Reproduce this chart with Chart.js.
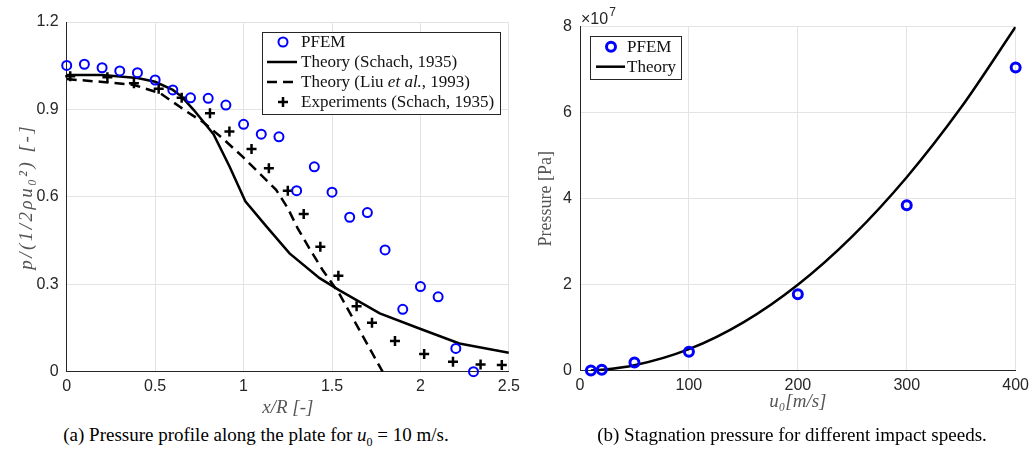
<!DOCTYPE html>
<html>
<head>
<meta charset="utf-8">
<script src="https://cdn.jsdelivr.net/npm/chart.js@4.4.1/dist/chart.umd.min.js"></script>
<style>
  html, body { margin: 0; padding: 0; background: #fff; }
  body { width: 1034px; height: 456px; position: relative; overflow: hidden; }
  .panel { position: absolute; top: 0; height: 420px; }
  #left { left: 0; width: 525px; }
  #right { left: 520px; width: 514px; }
  .caption {
    position: absolute; top: 424px; transform: translateX(-50%);
    font-family: "Liberation Serif", serif; font-size: 19px; color: #000; white-space: nowrap;
  }
  .caption sub { font-size: 12px; }
</style>
</head>
<body>
<div class="panel" id="left"><canvas id="chartA" width="525" height="420"></canvas></div>
<div class="panel" id="right"><canvas id="chartB" width="514" height="420"></canvas></div>
<div class="caption" style="left:256px">(a) Pressure profile along the plate for <i>u</i><sub>0</sub> = 10 m/s.</div>
<div class="caption" style="left:792px">(b) Stagnation pressure for different impact speeds.</div>

<script>
// (a) pressure profile along the plate
const pfemX = [0, 0.1, 0.2, 0.3, 0.4, 0.5, 0.6, 0.7, 0.8, 0.9, 1.0, 1.1, 1.2, 1.3, 1.4, 1.5, 1.6, 1.7, 1.8, 1.9, 2.0, 2.1, 2.2, 2.3];
const pfemY = [1.051, 1.055, 1.043, 1.032, 1.026, 1.001, 0.967, 0.940, 0.938, 0.915, 0.849, 0.815, 0.806, 0.621, 0.703, 0.616, 0.530, 0.546, 0.418, 0.214, 0.292, 0.257, 0.080, 0.0];

const schachX = [0, 0.2, 0.4, 0.5, 0.6, 0.65, 0.72, 0.83, 0.92, 1.01, 1.13, 1.26, 1.43, 1.54, 1.77, 1.99, 2.22, 2.5];
const schachY = [1.018, 1.018, 1.008, 0.995, 0.967, 0.944, 0.897, 0.815, 0.705, 0.585, 0.498, 0.406, 0.321, 0.280, 0.200, 0.149, 0.097, 0.065];

const liuX = [0, 0.19, 0.38, 0.53, 0.68, 0.77, 0.883, 0.996, 1.09, 1.184, 1.25, 1.306, 1.372, 1.447, 1.54, 1.786];
const liuY = [1.004, 0.995, 0.984, 0.955, 0.892, 0.857, 0.800, 0.737, 0.681, 0.624, 0.561, 0.492, 0.423, 0.349, 0.269, 0.0];

const expX = [0.02, 0.23, 0.38, 0.52, 0.65, 0.81, 0.92, 1.045, 1.143, 1.25, 1.34, 1.434, 1.536, 1.639, 1.726, 1.856, 2.021, 2.184, 2.34, 2.46];
const expY = [1.014, 1.010, 0.990, 0.971, 0.940, 0.887, 0.824, 0.764, 0.698, 0.621, 0.541, 0.429, 0.329, 0.225, 0.168, 0.105, 0.061, 0.034, 0.025, 0.023];

const xTicksA = [0, 0.5, 1, 1.5, 2, 2.5];
const yTicksA = [0, 0.3, 0.6, 0.9, 1.2];

// (b) stagnation pressure vs impact speed
const speeds = [10, 20, 50, 100, 200, 300, 400];
const pfemPressure = [5e4, 2e5, 1.9e6, 4.4e6, 1.78e7, 3.85e7, 7.05e7];
const theorySpeeds = [10, 20, 50, 100, 150, 200, 250, 300, 350, 400];
const theoryPressure = [5e4, 2e5, 1.25e6, 5e6, 1.125e7, 2e7, 3.125e7, 4.5e7, 6.125e7, 8e7];

const xTicksB = [0, 100, 200, 300, 400];
const yTicksB = [0, 2e7, 4e7, 6e7, 8e7];

const pts = (xs, ys) => xs.map((x, i) => ({ x, y: ys[i] }));

const TICK = "#262626";
const GRID = "#e3e3e3";
const LABEL = "#555";
const tickFont = { family: "'Liberation Sans', Arial, sans-serif", size: 16 };
const titleFont = { family: "'Liberation Serif', serif", size: 19, style: "italic" };

// boxed legend (mixed italic text) + exponent label + spaced y title
const boxLegend = {
  id: "boxLegend",
  afterDraw(chart, args, opts) {
    const ctx = chart.ctx;
    ctx.save();
    if (opts.rows) {
      ctx.fillStyle = "#fff";
      ctx.fillRect(opts.x, opts.y, opts.w, opts.h);
      ctx.strokeStyle = TICK;
      ctx.lineWidth = 1;
      ctx.strokeRect(opts.x + 0.5, opts.y + 0.5, opts.w, opts.h);

      opts.rows.forEach((row, i) => {
        const cy = opts.y + opts.first + i * opts.gap;
        const ds = chart.data.datasets[row.dataset];
        ctx.strokeStyle = ds.borderColor;
        ctx.lineWidth = ds.borderWidth;
        if (row.kind === "line") {
          ctx.setLineDash(ds.borderDash || []);
          ctx.beginPath();
          ctx.moveTo(opts.lineFrom, cy);
          ctx.lineTo(opts.lineTo, cy);
          ctx.stroke();
          ctx.setLineDash([]);
        } else if (row.kind === "circle") {
          ctx.beginPath();
          ctx.arc(opts.markX, cy, ds.pointRadius, 0, Math.PI * 2);
          ctx.stroke();
        } else {
          const r = ds.pointRadius;
          ctx.beginPath();
          ctx.moveTo(opts.markX - r, cy);
          ctx.lineTo(opts.markX + r, cy);
          ctx.moveTo(opts.markX, cy - r);
          ctx.lineTo(opts.markX, cy + r);
          ctx.stroke();
        }
        let tx = opts.textX;
        ctx.fillStyle = "#111";
        ctx.textBaseline = "middle";
        row.parts.forEach((p) => {
          ctx.font = (p.italic ? "italic " : "") + opts.fontSize + "px 'Liberation Serif', serif";
          ctx.fillText(p.text, tx, cy + 1);
          tx += ctx.measureText(p.text).width;
        });
      });
    }
    if (opts.exponent) {
      const e = opts.exponent;
      ctx.fillStyle = TICK;
      ctx.textBaseline = "middle";
      ctx.font = "16px 'Liberation Sans', Arial, sans-serif";
      ctx.fillText("\u00d710", e.x, e.y);
      const w = ctx.measureText("\u00d710").width;
      ctx.font = "12px 'Liberation Sans', Arial, sans-serif";
      ctx.fillText("7", e.x + w + 1, e.y - 7);
    }
    if (opts.yTitle) {
      const t = opts.yTitle;
      const area = chart.chartArea;
      ctx.translate(t.x, (area.top + area.bottom) / 2);
      ctx.rotate(-Math.PI / 2);
      ctx.fillStyle = LABEL;
      ctx.font = "italic 19px 'Liberation Serif', serif";
      ctx.letterSpacing = t.spacing + "px";
      ctx.textAlign = "center";
      ctx.textBaseline = "middle";
      ctx.fillText(t.text, 0, 0);
    }
    ctx.restore();
  }
};

function axis(ticks, extra) {
  return Object.assign({
    type: "linear",
    min: ticks[0],
    max: ticks[ticks.length - 1],
    afterBuildTicks: (scale) => { scale.ticks = ticks.map((v) => ({ value: v })); },
    grid: { color: GRID, lineWidth: 1, drawTicks: false },
    border: { color: TICK, width: 1 }
  }, extra);
}

const chartA = new Chart(document.getElementById("chartA"), {
  type: "scatter",
  data: {
    datasets: [
      {
        label: "PFEM",
        data: pts(pfemX, pfemY),
        pointStyle: "circle",
        pointRadius: 4.5,
        borderColor: "#0000ff",
        backgroundColor: "rgba(0,0,0,0)",
        borderWidth: 2,
        clip: false
      },
      {
        label: "Theory (Schach, 1935)",
        type: "line",
        data: pts(schachX, schachY),
        borderColor: "#000",
        borderWidth: 2.5,
        pointRadius: 0,
        tension: 0,
        fill: false
      },
      {
        label: "Theory (Liu et al., 1993)",
        type: "line",
        data: pts(liuX, liuY),
        borderColor: "#000",
        borderWidth: 2.5,
        borderDash: [10, 6],
        pointRadius: 0,
        tension: 0,
        fill: false
      },
      {
        label: "Experiments (Schach, 1935)",
        data: pts(expX, expY),
        pointStyle: "cross",
        pointRadius: 5,
        borderColor: "#000",
        borderWidth: 2.5,
        clip: false
      }
    ]
  },
  options: {
    responsive: false,
    animation: false,
    layout: { padding: { top: 22, right: 15, left: 0, bottom: 0 } },
    plugins: {
      legend: { display: false },
      tooltip: { enabled: false },
      boxLegend: {
        x: 262, y: 32, w: 238, h: 82, first: 10, gap: 20,
        markX: 283, lineFrom: 267, lineTo: 297, textX: 301, fontSize: 17,
        yTitle: { text: "p/(1/2\u03c1u\u2080\u00b2) [-]", x: 27, spacing: 2.5 },
        rows: [
          { dataset: 0, kind: "circle", parts: [{ text: "PFEM" }] },
          { dataset: 1, kind: "line", parts: [{ text: "Theory (Schach, 1935)" }] },
          { dataset: 2, kind: "line", parts: [{ text: "Theory (Liu " }, { text: "et al.", italic: true }, { text: ", 1993)" }] },
          { dataset: 3, kind: "cross", parts: [{ text: "Experiments (Schach, 1935)" }] }
        ]
      }
    },
    scales: {
      x: axis(xTicksA, {
        afterFit: (s) => { s.height = 48.3; },
        ticks: { color: TICK, font: tickFont, padding: 5, maxRotation: 0, callback: (v) => String(v) },
        title: { display: true, text: "x/R [-]", color: LABEL, font: titleFont, padding: { top: 0, bottom: 1 } }
      }),
      y: axis(yTicksA, {
        afterFit: (s) => { s.width = 66.7; },
        ticks: { color: TICK, font: tickFont, padding: 8, callback: (v) => (v === 0 ? "0" : v.toFixed(1)) },
        title: { display: false }
      })
    }
  },
  plugins: [boxLegend]
});

const chartB = new Chart(document.getElementById("chartB"), {
  type: "scatter",
  data: {
    datasets: [
      {
        label: "PFEM",
        data: pts(speeds, pfemPressure),
        pointStyle: "circle",
        pointRadius: 4.5,
        borderColor: "#0000ff",
        backgroundColor: "rgba(0,0,0,0)",
        borderWidth: 3,
        clip: false
      },
      {
        label: "Theory",
        type: "line",
        data: pts(theorySpeeds, theoryPressure),
        borderColor: "#000",
        borderWidth: 2.5,
        pointRadius: 0,
        cubicInterpolationMode: "monotone",
        fill: false
      }
    ]
  },
  options: {
    responsive: false,
    animation: false,
    layout: { padding: { top: 26.7, right: 17.7, left: 0, bottom: 0 } },
    plugins: {
      legend: { display: false },
      tooltip: { enabled: false },
      boxLegend: {
        x: 70, y: 36, w: 91, h: 43, first: 10.7, gap: 20,
        markX: 91, lineFrom: 76, lineTo: 105, textX: 107, fontSize: 17,
        exponent: { x: 61, y: 20 },
        rows: [
          { dataset: 0, kind: "circle", parts: [{ text: "PFEM" }] },
          { dataset: 1, kind: "line", parts: [{ text: "Theory" }] }
        ]
      }
    },
    scales: {
      x: axis(xTicksB, {
        afterFit: (s) => { s.height = 49.3; },
        ticks: { color: TICK, font: tickFont, padding: 5, maxRotation: 0, callback: (v) => String(v) },
        title: { display: true, text: "u\u2080[m/s]", color: LABEL, font: titleFont, padding: { top: 0, bottom: 7 } }
      }),
      y: axis(yTicksB, {
        afterFit: (s) => { s.width = 60; },
        ticks: { color: TICK, font: tickFont, padding: 8, callback: (v) => String(v / 1e7) },
        title: { display: true, text: "Pressure [Pa]", color: LABEL, font: { family: "'Liberation Serif', serif", size: 18 }, padding: { top: 15, bottom: 0 } }
      })
    }
  },
  plugins: [boxLegend]
});
</script>
</body>
</html>
